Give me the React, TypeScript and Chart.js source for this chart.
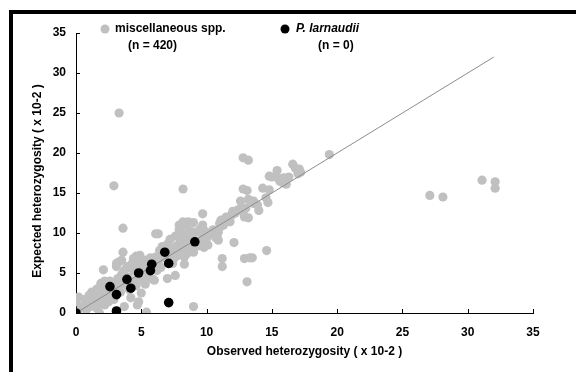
import React, { useEffect, useRef } from "react";
import { Chart, registerables } from "chart.js";

Chart.register(...registerables);

// Observed (x) vs expected (y) heterozygosity (x 10-2)
const miscPoints: [number, number][] = [
  [3.3, 25.0], [2.9, 15.9], [8.2, 15.5], [3.6, 10.6], [19.4, 19.8], [12.8, 19.4], [13.2, 19.1],
  [16.6, 18.6], [16.8, 18.1], [15.4, 17.8], [14.8, 17.1], [15.9, 16.9], [17.1, 18.0], [17.2, 17.6],
  [16.1, 16.1], [15.6, 16.5], [14.3, 15.6], [14.8, 15.4], [12.8, 15.5], [13.1, 15.3], [12.6, 14.0],
  [13.2, 14.2], [13.6, 14.0], [14.55, 14.4], [14.7, 13.8], [14.0, 12.8], [12.0, 12.7], [12.6, 13.0],
  [11.8, 12.1], [12.2, 12.5], [12.9, 12.0], [27.1, 14.7], [28.1, 14.5], [31.1, 16.6], [32.1, 16.4],
  [32.1, 15.6], [11.1, 11.6], [11.1, 10.8], [9.7, 12.4], [9.7, 11.0], [12.1, 8.8], [12.9, 6.8],
  [13.3, 6.9], [13.5, 6.9], [11.2, 6.8], [11.2, 5.8], [13.1, 3.9], [14.6, 7.8], [10.8, 9.6],
  [10.9, 9.1], [9.0, 0.8], [7.0, 4.3], [7.6, 4.7], [8.3, 6.1], [6.0, 4.1], [5.4, 0.1], [4.7, 1.0],
  [4.8, 1.4], [5.0, 2.5], [4.2, 1.9], [3.7, 0.8], [3.1, 0.0], [1.8, 0.0], [2.1, 1.6], [0.0, 1.4],
  [0.2, 2.0], [2.1, 5.4], [3.5, 6.6], [3.3, 6.4], [3.1, 6.2], [3.6, 7.6], [6.1, 9.9], [6.3, 9.9],
  [7.9, 11.0], [8.2, 11.4], [8.6, 11.4], [9.0, 11.3], [4.9, 7.2], [3.5, 3.6], [5.15, 4.05],
  [0.4, 0.6], [0.6, 1.0], [0.8, 0.4], [1.0, 1.5], [1.1, 0.8], [1.3, 1.9], [1.4, 1.1], [1.5, 2.6],
  [1.6, 0.6], [1.7, 2.2], [1.8, 1.4], [1.9, 3.0], [2.0, 2.5], [2.2, 1.0], [2.2, 3.5], [2.3, 2.0],
  [2.5, 1.4], [2.5, 2.8], [2.6, 4.0], [2.8, 2.2], [2.8, 3.3], [2.9, 1.7], [3.0, 3.7], [3.1, 2.8],
  [1.2, 2.6], [1.6, 3.0], [1.9, 3.7], [2.2, 4.0], [2.4, 3.2], [1.0, 2.2], [0.7, 1.7],
  [3.2, 4.3], [3.4, 2.6], [3.5, 4.8], [3.7, 5.3], [3.8, 3.8], [3.9, 5.8], [4.0, 4.5], [4.1, 2.9],
  [4.2, 5.6], [4.3, 6.2], [4.4, 4.0], [4.5, 5.2], [4.6, 3.4], [4.7, 6.0], [4.8, 4.7], [4.9, 5.5],
  [5.0, 6.4], [5.1, 4.1], [5.2, 5.8], [5.3, 3.6], [5.4, 6.6], [5.5, 5.0], [5.6, 4.4], [5.7, 6.9],
  [5.8, 5.6], [5.9, 4.2], [6.0, 6.2], [6.1, 7.0], [6.2, 5.3], [4.6, 7.1], [5.4, 6.1], [3.1, 5.8],
  [3.6, 5.0], [4.0, 3.2], [4.4, 6.8],
  [6.3, 6.5], [6.4, 7.8], [6.5, 5.7], [6.6, 8.3], [6.7, 6.9], [6.9, 7.4], [7.0, 8.6], [7.1, 6.5],
  [7.2, 9.2], [7.3, 7.7], [7.4, 8.0], [7.5, 6.8], [7.6, 9.6], [7.7, 8.4], [7.8, 7.2], [7.9, 10.4],
  [8.0, 9.0], [8.1, 7.7], [8.2, 9.8], [8.3, 8.5], [8.4, 10.9], [8.5, 7.4], [8.6, 9.3], [8.7, 10.3],
  [8.8, 8.1], [8.9, 9.6], [9.0, 7.6], [9.1, 10.1], [8.3, 7.0], [7.4, 6.2], [6.8, 7.6],
  [9.3, 9.0], [9.4, 8.4], [9.5, 10.5], [9.6, 8.9], [9.7, 9.7], [9.8, 8.2], [9.9, 10.2], [10.0, 9.3],
  [10.1, 8.5], [10.3, 9.9], [10.5, 10.4], [10.7, 9.4], [10.9, 10.1], [11.0, 11.2], [11.3, 11.0],
  [11.5, 12.0], [11.8, 11.4], [12.0, 12.3], [12.4, 12.9], [12.8, 12.6], [13.0, 13.1], [13.2, 11.9],
  [13.4, 14.0], [13.6, 13.7], [13.9, 13.5], [15.0, 17.0], [15.5, 16.8], [15.8, 16.3], [16.3, 17.0],
  [17.0, 17.4],
];

const larnaudiiPoints: [number, number][] = [
  [0, 0], [2.6, 3.3], [3.1, 2.3], [3.1, 0.25], [3.9, 4.2], [4.2, 3.1], [4.8, 5.0],
  [5.7, 5.3], [5.8, 6.1], [6.8, 7.6], [7.1, 6.2], [7.1, 1.3], [9.1, 8.9],
];

const diagonalLine: [number, number][] = [[0, 0], [32, 32]];

const axisTicks = [0, 5, 10, 15, 20, 25, 30, 35];

const legendLabels = ["miscellaneous spp.", "(n = 420)", "P. larnaudii", "(n = 0)"];
const xTitle = "Observed heterozygosity ( x 10-2 )";
const yTitle = "Expected heterozygosity ( x 10-2 )";

const FONT = "Arial, 'Liberation Sans', sans-serif";
const GRAY = "#c0c0c0";

const decorPlugin = {
  id: "decor",
  afterDraw(chart: any) {
    const ctx = chart.ctx;
    const xs = chart.scales.x;
    const ys = chart.scales.y;
    const area = chart.chartArea;
    ctx.save();
    // inward tick marks
    ctx.strokeStyle = "#000";
    ctx.lineWidth = 1;
    ctx.beginPath();
    axisTicks.forEach((v) => {
      const px = Math.round(xs.getPixelForValue(v)) + 0.5;
      ctx.moveTo(px, area.bottom);
      ctx.lineTo(px, area.bottom - 4);
      const py = Math.round(ys.getPixelForValue(v)) + 0.5;
      ctx.moveTo(area.left, py);
      ctx.lineTo(area.left + 4, py);
    });
    ctx.stroke();

    // y title
    ctx.fillStyle = "#000";
    ctx.font = `bold 12px ${FONT}`;
    ctx.textAlign = "center";
    ctx.textBaseline = "middle";
    ctx.translate(38, 181);
    ctx.rotate(-Math.PI / 2);
    ctx.fillText(yTitle, 0, 0);
    ctx.restore();

    // legend
    ctx.save();
    ctx.fillStyle = GRAY;
    ctx.beginPath();
    ctx.arc(105, 29, 4.5, 0, Math.PI * 2);
    ctx.fill();
    ctx.fillStyle = "#000";
    ctx.beginPath();
    ctx.arc(285, 29, 4.5, 0, Math.PI * 2);
    ctx.fill();
    ctx.textBaseline = "middle";
    ctx.textAlign = "left";
    ctx.font = `bold 12px ${FONT}`;
    ctx.fillText(legendLabels[0], 115, 29);
    ctx.fillText(legendLabels[1], 128, 46);
    ctx.fillText(legendLabels[3], 318, 46);
    ctx.font = `italic bold 12px ${FONT}`;
    ctx.fillText(legendLabels[2], 296, 29);
    ctx.restore();
  },
};

export default function App() {
  const ref = useRef<HTMLCanvasElement | null>(null);
  useEffect(() => {
    if (!ref.current) return;
    const chart = new Chart(ref.current, {
      type: "scatter",
      data: {
        datasets: [
          {
            label: "P. larnaudii",
            data: larnaudiiPoints.map(([x, y]) => ({ x, y })),
            backgroundColor: "#000",
            borderWidth: 0,
            pointRadius: 4.8,
            order: 0,
          },
          {
            label: "diagonal",
            data: diagonalLine.map(([x, y]) => ({ x, y })),
            showLine: true,
            borderColor: "#8c8c8c",
            borderWidth: 1,
            pointRadius: 0,
            order: 1,
          } as any,
          {
            label: "miscellaneous spp.",
            data: miscPoints.map(([x, y]) => ({ x, y })),
            backgroundColor: GRAY,
            borderWidth: 0,
            pointRadius: 4.6,
            order: 2,
          },
        ],
      },
      options: {
        animation: false,
        responsive: false,
        layout: { padding: { left: 0, top: 33, right: 43, bottom: 0 } },
        plugins: { legend: { display: false }, tooltip: { enabled: false } },
        scales: {
          x: {
            type: "linear",
            min: 0,
            max: 35,
            afterFit: (s: any) => { s.height = 59; },
            grid: { display: false, drawTicks: false },
            border: { display: true, color: "#000", width: 1 },
            ticks: {
              stepSize: 5,
              padding: 12,
              color: "#000",
              font: { family: FONT, size: 12, weight: "bold" },
            },
            title: {
              display: true,
              text: xTitle,
              color: "#000",
              padding: 13,
              font: { family: FONT, size: 12, weight: "bold" },
            },
          },
          y: {
            type: "linear",
            min: 0,
            max: 35,
            afterFit: (s: any) => { s.width = 76; },
            grid: { display: false, drawTicks: false },
            border: { display: true, color: "#000", width: 1 },
            ticks: {
              stepSize: 5,
              padding: 10,
              color: "#000",
              font: { family: FONT, size: 12, weight: "bold" },
            },
          },
        },
      },
      plugins: [decorPlugin],
    });
    return () => chart.destroy();
  }, []);

  return (
    <div style={{ position: "fixed", left: 0, top: 0, width: 576, height: 372, overflow: "hidden" }}>
      <div
        style={{
          position: "absolute",
          left: 9,
          top: 10,
          width: 567,
          height: 362,
          boxSizing: "border-box",
          borderLeft: "4px solid #000",
          borderTop: "4px solid #000",
        }}
      />
      <canvas
        ref={ref}
        width={576}
        height={372}
        style={{ position: "absolute", left: 0, top: 0, width: 576, height: 372 }}
      />
    </div>
  );
}
